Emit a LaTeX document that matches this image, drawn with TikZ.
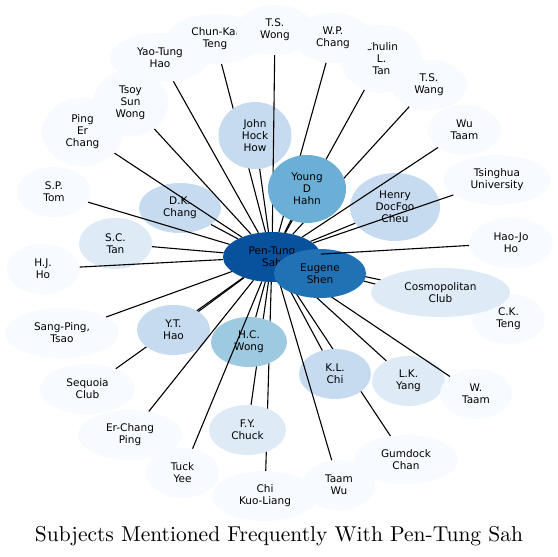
\documentclass[tikz,border=0pt]{standalone}
\usepackage{fontspec}
\usetikzlibrary{shapes.geometric}
\newfontfamily\nodefont{DejaVu Sans}
\definecolor{cz}{HTML}{F7FBFF}
\definecolor{ca}{HTML}{DEEBF7}
\definecolor{cb}{HTML}{C6DBEF}
\definecolor{cc}{HTML}{9ECAE1}
\definecolor{cd}{HTML}{6BAED6}
\definecolor{ce}{HTML}{2171B5}
\definecolor{cf}{HTML}{08519C}
\pgfdeclarelayer{nA}
\pgfdeclarelayer{eA}
\pgfdeclarelayer{nB}
\pgfdeclarelayer{eB}
\pgfdeclarelayer{nC}
\pgfsetlayers{nA,eA,nB,eB,nC,main}
\tikzset{
  nd/.style={ellipse, inner sep=0pt, align=center, text=black,
    font=\nodefont\fontsize{10.5}{12}\selectfont},
  sz/.style 2 args={minimum width=#1pt, minimum height=#2pt},
  lk/.style={draw=black, line width=1.1pt}
}
\begin{document}
\begin{tikzpicture}[x=1pt,y=-1pt]
\useasboundingbox (0,0) rectangle (558,557);
\begin{pgfonlayer}{nA}
\node[nd, fill=cz, sz={73}{50}] (ckte) at (508.5,319) {C.K.\\Teng};
\node[nd, fill=cz, sz={81}{68}] (clt) at (381.5,59) {Chulin\\L.\\Tan};
\node[nd, fill=cz, sz={78}{50}] (wpc) at (333,38) {W.P.\\Chang};
\node[nd, fill=cz, sz={98}{50}] (ckt) at (215,39) {Chun-Kai\\Teng};
\node[nd, fill=cz, sz={78}{50}] (tswo) at (275,30) {T.S.\\Wong};
\node[nd, fill=cz, sz={100}{49}] (ytha) at (160,57.5) {Yao-Tung\\Hao};
\node[nd, fill=cz, sz={81}{68}] (pec) at (82.5,132) {Ping\\Er\\Chang};
\node[nd, fill=cz, sz={75}{67}] (tsw) at (130.5,103) {Tsoy\\Sun\\Wong};
\node[nd, fill=cz, sz={76}{50}] (tswa) at (429,85) {T.S.\\Wang};
\node[nd, fill=cz, sz={73}{50}] (wut) at (464.5,130) {Wu\\Taam};
\node[nd, fill=cz, sz={108}{50}] (tsu) at (497,180) {Tsinghua\\University};
\node[nd, fill=cz, sz={84}{50}] (hjo) at (511,243) {Hao-Jo\\Ho};
\node[nd, fill=cz, sz={74}{50}] (spt) at (54,192) {S.P.\\Tom};
\node[nd, fill=cz, sz={73}{50}] (hjh) at (43,269) {H.J.\\Ho};
\node[nd, fill=cz, sz={114}{50}] (spts) at (62,333) {Sang-Ping,\\Tsao};
\node[nd, fill=cz, sz={95}{50}] (sqc) at (87.5,389) {Sequoia\\Club};
\node[nd, fill=cz, sz={104}{50}] (ecp) at (130,435) {Er-Chang\\Ping};
\node[nd, fill=cz, sz={73}{50}] (tky) at (182.5,473) {Tuck\\Yee};
\node[nd, fill=cz, sz={106}{50}] (ckl) at (265,496) {Chi\\Kuo-Liang};
\node[nd, fill=cz, sz={104}{49}] (gdc) at (406,459.5) {Gumdock\\Chan};
\node[nd, fill=cz, sz={73}{50}] (tmw) at (339,485) {Taam\\Wu};
\node[nd, fill=ca, sz={73}{50}] (lky) at (408.5,381) {L.K.\\Yang};
\node[nd, fill=cz, sz={72}{50}] (wta) at (476,394) {W.\\Taam};
\node[nd, fill=cb, sz={82}{50}] (dkc) at (180,208) {D.K.\\Chang};
\node[nd, fill=ca, sz={73}{51}] (sct) at (115.5,243.5) {S.C.\\Tan};
\node[nd, fill=cb, sz={90}{68}] (hdc) at (395,207) {Henry\\DocFoo\\Cheu};
\node[nd, fill=cf, sz={98}{50}] (pts) at (272,257) {Pen-Tung\\Sah};
\end{pgfonlayer}
\begin{pgfonlayer}{nB}
\node[nd, fill=cb, sz={73}{67}] (jhh) at (255,135.5) {John\\Hock\\How};
\node[nd, fill=cb, sz={73}{50}] (yth) at (173.5,330) {Y.T.\\Hao};
\node[nd, fill=ca, sz={77}{50}] (fyc) at (247.5,430) {F.Y.\\Chuck};
\node[nd, fill=cc, sz={76}{50}] (hcw) at (249,342) {H.C.\\Wong};
\node[nd, fill=cb, sz={72}{50}] (klc) at (335,374) {K.L.\\Chi};
\node[nd, fill=ca, sz={139}{49}] (cosmo) at (440.5,292.5) {Cosmopolitan\\Club};
\end{pgfonlayer}
\begin{pgfonlayer}{nC}
\node[nd, fill=cd, sz={78}{68}] (ydh) at (307,189) {Young\\D\\Hahn};
\node[nd, fill=ce, sz={92}{49}] (es) at (320,273.5) {Eugene\\Shen};
\end{pgfonlayer}
\begin{pgfonlayer}{eA}
\draw[lk] (ckt) -- (pts);
\draw[lk] (sqc) -- (pts);
\draw[lk] (fyc) -- (pts);
\draw[lk] (ckl) -- (pts);
\draw[lk] (gdc) -- (pts);
\draw[lk] (ckte) -- (pts);
\draw[lk] (cosmo) -- (pts);
\end{pgfonlayer}
\begin{pgfonlayer}{eB}
\draw[lk] (tswo) -- (pts);
\draw[lk] (wpc) -- (pts);
\draw[lk] (clt) -- (pts);
\draw[lk] (tswa) -- (pts);
\draw[lk] (klc) -- (pts);
\draw[lk] (lky) -- (pts);
\draw[lk] (wta) -- (pts);
\draw[lk] (tmw) -- (pts);
\end{pgfonlayer}
\draw[lk] (ytha) -- (pts);
\draw[lk] (tsw) -- (pts);
\draw[lk] (pec) -- (pts);
\draw[lk] (spt) -- (pts);
\draw[lk] (dkc) -- (pts);
\draw[lk] (sct) -- (pts);
\draw[lk] (hjh) -- (pts);
\draw[lk] (spts) -- (pts);
\draw[lk] (yth) -- (pts);
\draw[lk] (ecp) -- (pts);
\draw[lk] (tky) -- (pts);
\draw[lk] (hcw) -- (pts);
\draw[lk] (jhh) -- (pts);
\draw[lk] (ydh) -- (pts);
\draw[lk] (hdc) -- (pts);
\draw[lk] (wut) -- (pts);
\draw[lk] (tsu) -- (pts);
\draw[lk] (hjo) -- (pts);
\node[anchor=base, inner sep=0pt] (title) at (279,541) {\resizebox{488pt}{!}{\fontsize{10}{12}\selectfont Subjects Mentioned Frequently With Pen-Tung Sah}};
\end{tikzpicture}
\end{document}
